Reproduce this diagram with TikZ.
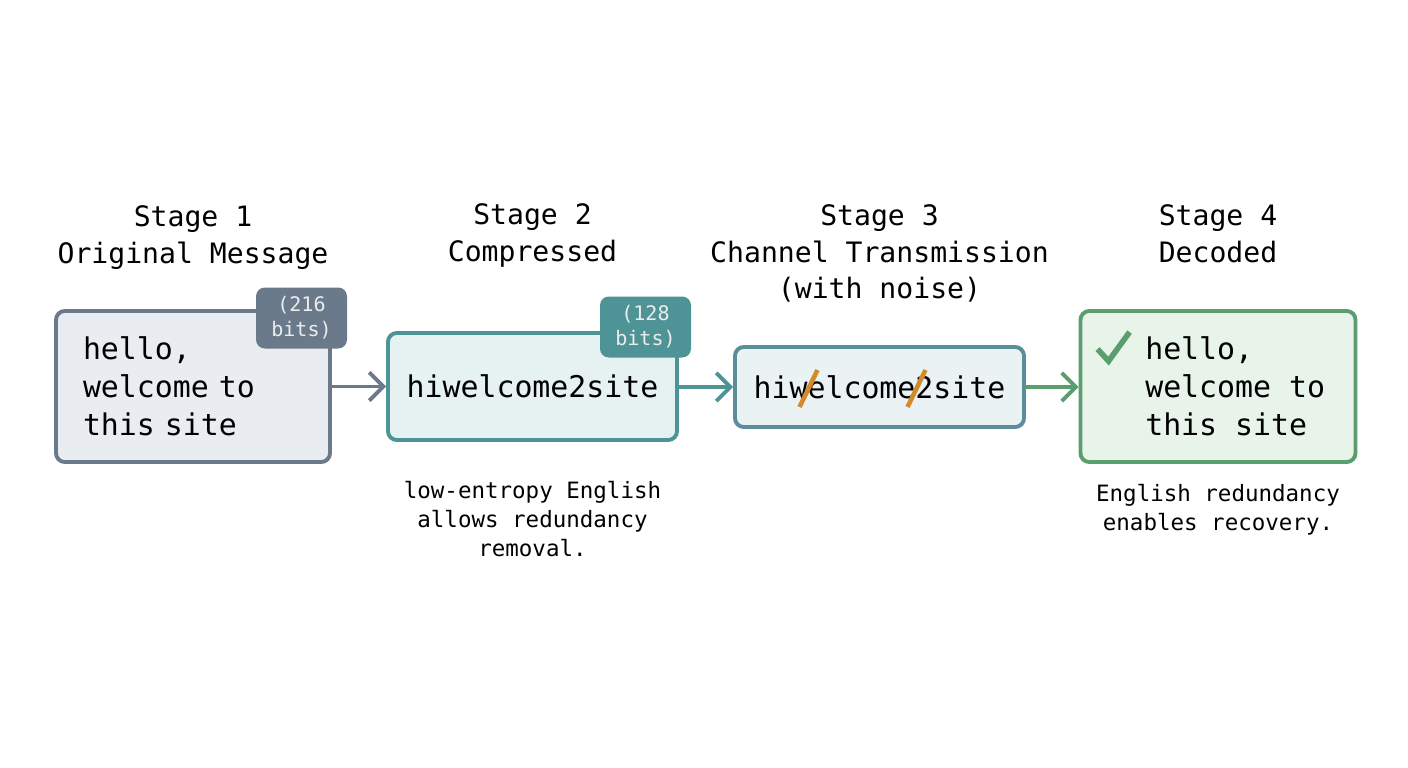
\documentclass[tikz,border=0pt]{standalone}
\usepackage{fontspec}
\setmonofont{DejaVu Sans Mono}
\usetikzlibrary{arrows.meta,positioning}
\definecolor{grayline}{HTML}{6B7A8A}
\definecolor{grayfill}{HTML}{E9EDF1}
\definecolor{tealline}{HTML}{4E9497}
\definecolor{tealfill}{HTML}{E6F1F2}
\definecolor{chanline}{HTML}{5A8F9A}
\definecolor{chanfill}{HTML}{EBF2F4}
\definecolor{greenline}{HTML}{5A9E6F}
\definecolor{greenfill}{HTML}{E8F3EA}
\definecolor{noise}{HTML}{D38B2A}
\begin{document}
\begin{tikzpicture}[
    box/.style={draw, line width=1.1pt, rounded corners=2.5pt, font=\ttfamily\fontsize{8.5}{10.8}\selectfont, align=left, inner sep=0pt},
    msg/.style={font=\ttfamily\fontsize{8.5}{10.8}\selectfont, align=left, inner sep=0pt},
    badge/.style={rounded corners=2.5pt, text=white!85!gray, font=\ttfamily\fontsize{5.7}{7}\selectfont, align=center, minimum width=0.91cm, minimum height=0.61cm, inner sep=0pt},
    title/.style={font=\ttfamily\fontsize{8}{10.5}\selectfont, align=center},
    note/.style={font=\ttfamily\fontsize{6.4}{8.2}\selectfont, align=center},
    flow/.style={line width=1.1pt, -{Straight Barb[length=4pt,width=8pt,line width=1.1pt]}}
  ]
  \useasboundingbox (0,0) rectangle (14.08,-7.68);
  % stage boxes
  \node[box, draw=grayline, fill=grayfill, minimum width=2.74cm, minimum height=1.51cm, text width=2.2cm] (orig) at (1.93,-3.865) {hello,\\welcome to\\this site};
  \node[box, draw=tealline, fill=tealfill, minimum width=2.89cm, minimum height=1.07cm] (comp) at (5.325,-3.865) {hiwelcome2site};
  \node[box, draw=chanline, fill=chanfill, minimum width=2.89cm, minimum height=0.80cm] (chan) at (8.795,-3.87) {hiwelcome2site};
  \node[box, draw=greenline, fill=greenfill, minimum width=2.75cm, minimum height=1.51cm] (dec) at (12.18,-3.865) {};
  \node[msg, anchor=west] (dectext) at ([xshift=0.66cm]dec.west) {hello,\\welcome to\\this site};
  % bit badges
  \node[badge, fill=grayline] (bitsa) at (3.015,-3.18) {(216\\bits)};
  \node[badge, fill=tealline] (bitsb) at (6.455,-3.27) {(128\\bits)};
  % titles
  \node[title, above=0.27cm of orig.north] {Stage 1\\Original Message};
  \node[title, above=0.29cm of orig.north -| comp] {Stage 2\\Compressed};
  \node[title, above=0.30cm of chan.north] {Stage 3\\Channel Transmission\\(with noise)};
  \node[title, above=0.34cm of dec.north] {Stage 4\\Decoded};
  % notes
  \node[note, below=0.27cm of comp] {low-entropy English\\allows redundancy\\removal.};
  \node[note, below=0.08cm of dec] {English redundancy\\enables recovery.};
  % noise marks
  \draw[noise, line width=1.3pt] ([xshift=-0.8cm,yshift=-0.2cm]chan.center) -- ([xshift=-0.62cm,yshift=0.17cm]chan.center);
  \draw[noise, line width=1.3pt] ([xshift=0.28cm,yshift=-0.2cm]chan.center) -- ([xshift=0.46cm,yshift=0.17cm]chan.center);
  % check
  \draw[greenline, line width=1.6pt] ([xshift=0.19cm,yshift=-0.40cm]dec.north west) -- ([xshift=0.30cm,yshift=-0.52cm]dec.north west) -- ([xshift=0.51cm,yshift=-0.23cm]dec.north west);
  % arrows
  \draw[flow, grayline] (orig) -- (comp);
  \draw[flow, tealline] (comp.east |- chan) -- (chan);
  \draw[flow, greenline] (chan) -- (dec.west |- chan);
\end{tikzpicture}
\end{document}
